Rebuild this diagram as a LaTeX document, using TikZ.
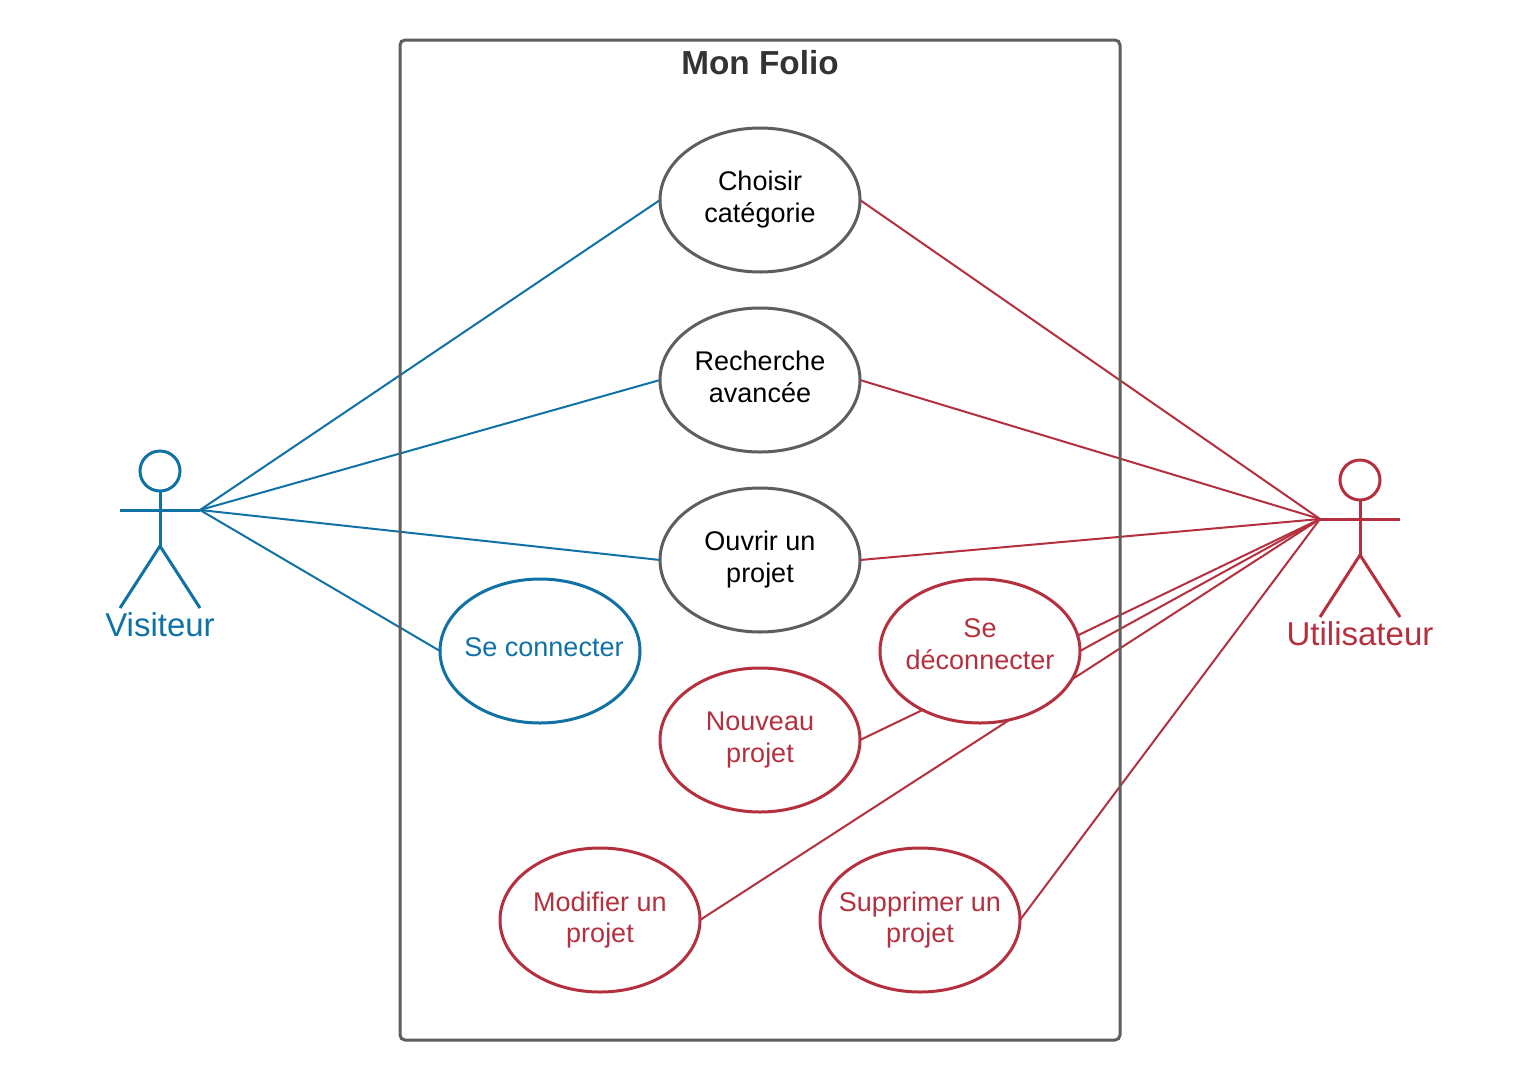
\documentclass[tikz,border=0pt]{standalone}
\usepackage{fontspec}
\setmainfont{Liberation Sans}
\usetikzlibrary{shapes.geometric, positioning, backgrounds}

\definecolor{visiteurblue}{HTML}{1071A5}
\definecolor{utilred}{HTML}{B5303F}
\definecolor{framegray}{HTML}{5E5E5E}

\tikzset{
    usecase/.style={ellipse, draw=framegray, fill=white, line width=3pt, minimum width=200pt, minimum height=144pt, inner xsep=-30pt, inner ysep=-10pt, outer sep=0pt, align=center, text=black, text depth=5.6pt, font=\fontsize{27}{32}\selectfont},
    bluecase/.style={usecase, draw=visiteurblue, text=visiteurblue},
    redcase/.style={usecase, draw=utilred, text=utilred},
    head/.style={circle, draw, line width=3pt, minimum size=40pt, inner sep=0pt, outer sep=0pt},
    actorlabel/.style={font=\fontsize{33}{38}\selectfont, inner sep=0pt},
    limb/.style={line width=3pt},
    link/.style={line width=2pt}
}

\begin{document}
\begin{tikzpicture}[x=1pt, y=-1pt]
    \useasboundingbox (0,0) rectangle (1520,1080);

    \node[draw=framegray, line width=3pt, rounded corners=5pt, minimum width=720pt, minimum height=1000pt, inner sep=0pt, outer sep=0pt] (folio) at (760,540) {};
    \node[font=\bfseries\fontsize{33.3}{38}\selectfont, text=black!80, inner sep=0pt] (title) at (760,63) {Mon Folio};

    \node[usecase] (choisir) at (760,200) {Choisir\\catégorie};
    \node[usecase] (recherche) at (760,380) {Recherche\\avancée};
    \node[usecase] (ouvrir) at (760,560) {Ouvrir un\\projet};
    \node[bluecase, text depth=7.6pt] (connecter) at (540,651) {\hspace*{8pt}Se connecter};
    \node[redcase, text depth=14.2pt] (deconnecter) at (980,651) {Se\\déconnecter};
    \node[redcase] (nouveau) at (760,740) {Nouveau\\projet};
    \node[redcase] (modifier) at (600,920) {Modifier un\\projet};
    \node[redcase] (supprimer) at (920,920) {Supprimer un\\projet};

    % Visiteur
    \node[head, draw=visiteurblue] (vhead) at (160,471) {};
    \coordinate (vhandl) at (120,510);
    \coordinate (vhandr) at (200,510);
    \coordinate (vhip) at (160,546);
    \coordinate (vfootl) at (120,608);
    \coordinate (vfootr) at (200,608);
    \draw[limb, visiteurblue] (vhead.south) -- (vhip);
    \draw[limb, visiteurblue] (vhandl) -- (vhandr);
    \draw[limb, visiteurblue] (vfootl) -- (vhip) -- (vfootr);
    \node[actorlabel, text=visiteurblue] (visiteur) at (160,625) {Visiteur};

    % Utilisateur
    \node[head, draw=utilred] (uhead) at (1360,480) {};
    \coordinate (uhandl) at (1320,519);
    \coordinate (uhandr) at (1400,519);
    \coordinate (uhip) at (1360,555);
    \coordinate (ufootl) at (1320,617);
    \coordinate (ufootr) at (1400,617);
    \draw[limb, utilred] (uhead.south) -- (uhip);
    \draw[limb, utilred] (uhandl) -- (uhandr);
    \draw[limb, utilred] (ufootl) -- (uhip) -- (ufootr);
    \node[actorlabel, text=utilred] (utilisateur) at (1360,634) {Utilisateur};

    \begin{scope}[on background layer]
        \foreach \target/\side in {choisir/west, recherche/west, ouvrir/west, connecter/west}
            \draw[link, visiteurblue] (vhandr) -- (\target.\side);
        \foreach \target/\side in {choisir/east, recherche/east, ouvrir/east, deconnecter/east, nouveau/east, modifier/east, supprimer/east}
            \draw[link, utilred] (uhandl) -- (\target.\side);
    \end{scope}
\end{tikzpicture}
\end{document}
